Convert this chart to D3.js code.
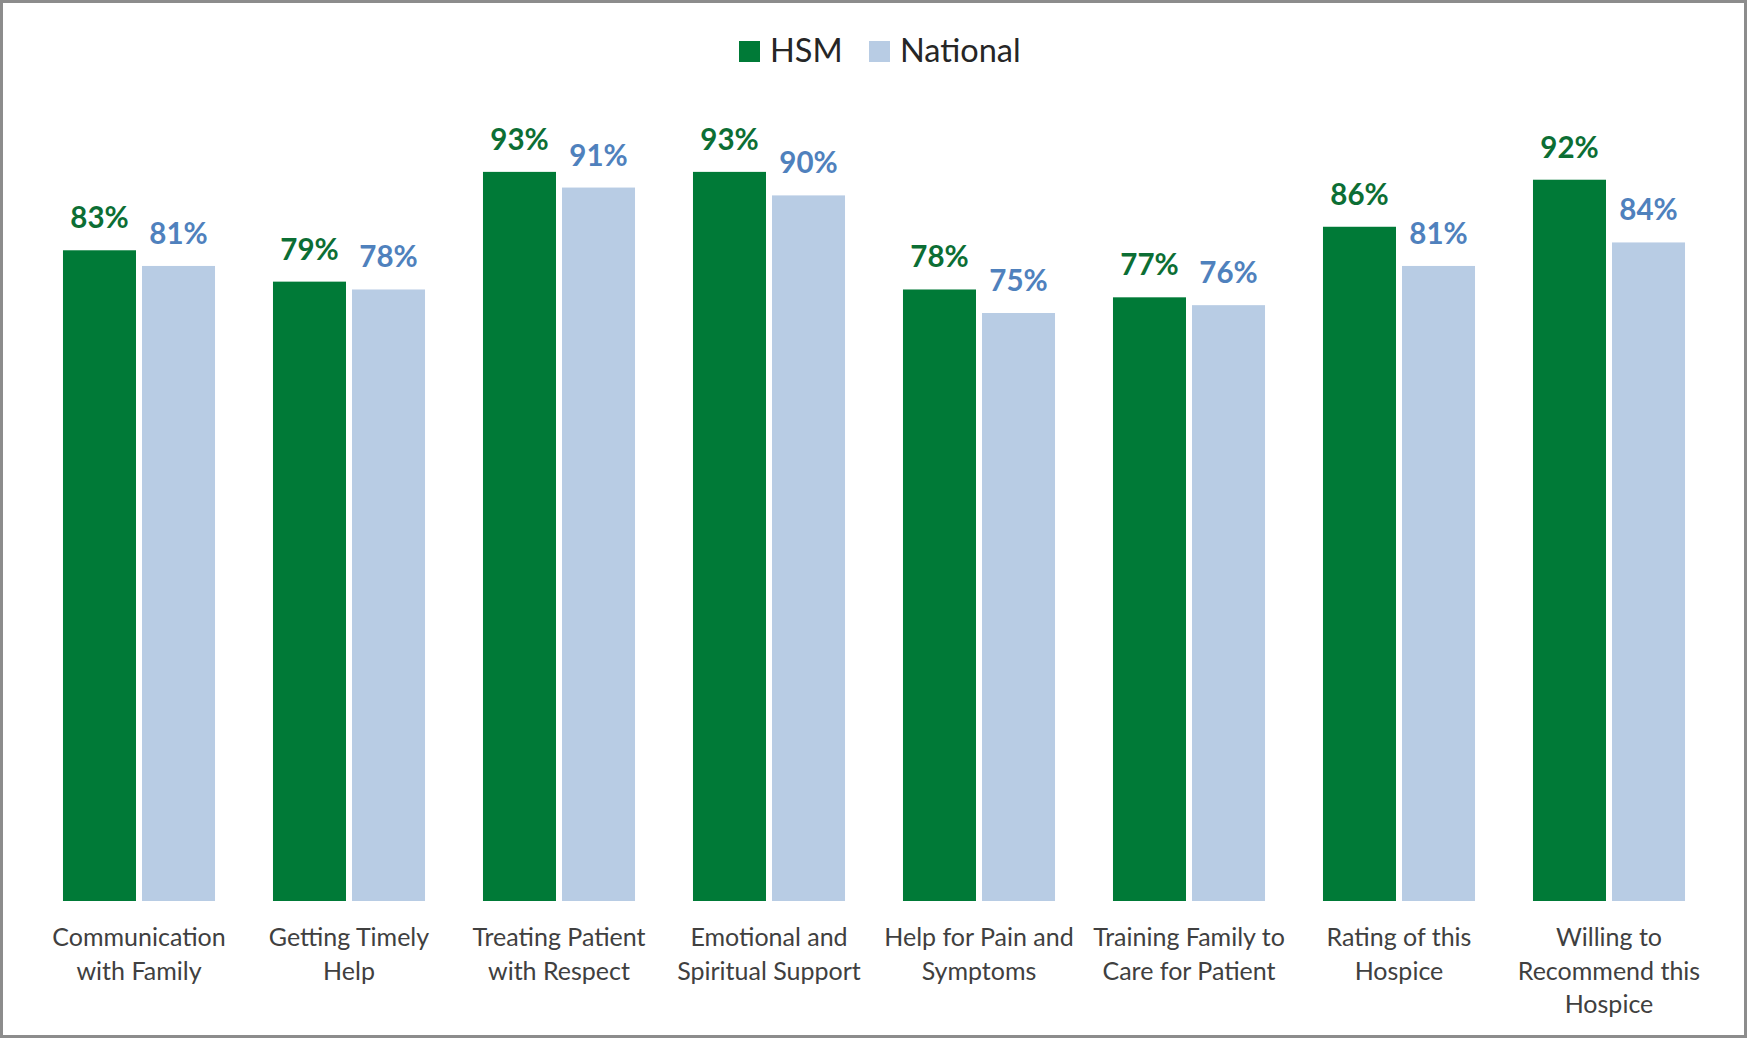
<!DOCTYPE html>
<html>
<head>
<meta charset="utf-8">
<script src="https://cdn.jsdelivr.net/npm/d3@7"></script>
<style>
  body { margin: 0; background: #fff; }
  text { font-family: Lato, "Open Sans", sans-serif; }
</style>
</head>
<body>
<div id="chart"></div>
<script>
// chart data
const categories = [
  ["Communication", "with Family"],
  ["Getting Timely", "Help"],
  ["Treating Patient", "with Respect"],
  ["Emotional and", "Spiritual Support"],
  ["Help for Pain and", "Symptoms"],
  ["Training Family to", "Care for Patient"],
  ["Rating of this", "Hospice"],
  ["Willing to", "Recommend this", "Hospice"]
];
const seriesNames = ["HSM", "National"];
const hsm = [0.83, 0.79, 0.93, 0.93, 0.78, 0.77, 0.86, 0.92];
const national = [0.81, 0.78, 0.91, 0.90, 0.75, 0.76, 0.81, 0.84];

const width = 1747,
  height = 1039;

const barColor = { HSM: "#007a37", National: "#b8cce4" };
const labelColor = { HSM: "#0c6e34", National: "#4f81bd" };

const svg = d3
  .select("#chart")
  .append("svg")
  .attr("width", width)
  .attr("height", height);

// outer frame
svg
  .append("rect")
  .attr("x", 1.5)
  .attr("y", 1.5)
  .attr("width", width - 3)
  .attr("height", height - 4)
  .style("fill", "white")
  .style("stroke", "#8c8c8c")
  .style("stroke-width", 3);

const keys = categories.map((d, i) => i);
const rows = keys.map((i) => ({ key: i, HSM: hsm[i], National: national[i] }));

const x0 = d3
  .scaleBand()
  .domain(keys)
  .range([34, 1714])
  .paddingInner(0.276)
  .paddingOuter(0.138);

const x1 = d3
  .scaleBand()
  .domain(seriesNames)
  .range([0, x0.bandwidth()])
  .paddingInner(0.076);

const y = d3.scaleLinear().domain([0, 1]).range([901, 117]);

const groups = svg
  .selectAll("g.group")
  .data(rows)
  .join("g")
  .attr("class", "group")
  .attr("transform", (d) => `translate(${x0(d.key)},0)`);

groups
  .selectAll("rect")
  .data((d) => seriesNames.map((s) => ({ s, v: d[s] })))
  .join("rect")
  .attr("x", (d) => x1(d.s))
  .attr("y", (d) => y(d.v))
  .attr("width", x1.bandwidth())
  .attr("height", (d) => y(0) - y(d.v))
  .style("fill", (d) => barColor[d.s]);

groups
  .selectAll("text.value")
  .data((d) => seriesNames.map((s) => ({ s, v: d[s] })))
  .join("text")
  .attr("class", "value")
  .attr("x", (d) => x1(d.s) + x1.bandwidth() / 2)
  .attr("y", (d) => y(d.v) - 22)
  .attr("text-anchor", "middle")
  .style("font-size", "29.5px")
  .style("font-weight", "bold")
  .style("fill", (d) => labelColor[d.s])
  .text((d) => d3.format(".0%")(d.v));

// category labels
const catLabels = svg
  .selectAll("text.cat")
  .data(rows)
  .join("text")
  .attr("class", "cat")
  .attr("text-anchor", "middle")
  .attr("y", 946)
  .style("font-size", "25px")
  .style("fill", "#404040");

catLabels
  .selectAll("tspan")
  .data((d) => categories[d.key].map((line) => ({ line, key: d.key })))
  .join("tspan")
  .attr("x", (d) => x0(d.key) + x0.bandwidth() / 2)
  .attr("dy", (d, i) => (i === 0 ? 0 : 33.5))
  .text((d) => d.line);

// legend
const legendX = [739, 869];
const legend = svg
  .selectAll("g.legend")
  .data(seriesNames)
  .join("g")
  .attr("class", "legend")
  .attr("transform", (d, i) => `translate(${legendX[i]},41)`);

legend
  .append("rect")
  .attr("width", 21)
  .attr("height", 21)
  .style("fill", (d) => barColor[d]);

legend
  .append("text")
  .attr("x", 31)
  .attr("y", 21)
  .style("font-size", "32.5px")
  .style("fill", "#262626")
  .text((d) => d);
</script>
</body>
</html>
